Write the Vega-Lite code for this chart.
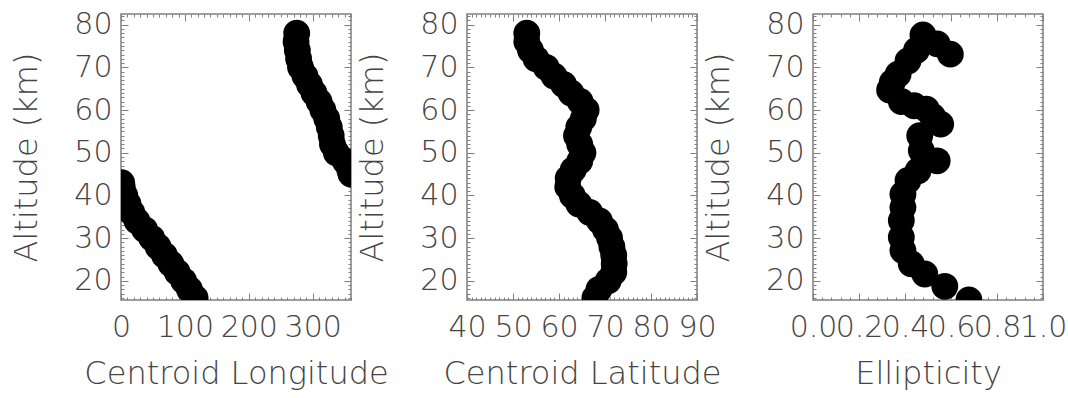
{
  "$schema": "https://vega.github.io/schema/vega-lite/v6.json",
  "autosize": {"type": "pad"},
  "padding": {"left": 9, "top": 0, "right": 3, "bottom": 0},
  "background": "white",
  "spacing": 116,
  "bounds": "flush",
  "datasets": {
    "lon": [
      {"alt": 78, "v": 275}, {"alt": 76, "v": 274}, {"alt": 74, "v": 276}, {"alt": 72, "v": 278},
      {"alt": 70, "v": 281}, {"alt": 68, "v": 288}, {"alt": 66, "v": 295}, {"alt": 64, "v": 302},
      {"alt": 62, "v": 310}, {"alt": 60, "v": 316}, {"alt": 58, "v": 322}, {"alt": 56, "v": 326},
      {"alt": 54, "v": 329}, {"alt": 52, "v": 331}, {"alt": 50, "v": 337}, {"alt": 48, "v": 351},
      {"alt": 46, "v": 358}, {"alt": 45, "v": 360},
      {"alt": 43, "v": 1}, {"alt": 42, "v": 2}, {"alt": 40, "v": 6}, {"alt": 38, "v": 11},
      {"alt": 36, "v": 17}, {"alt": 34, "v": 25}, {"alt": 32, "v": 37}, {"alt": 30, "v": 48},
      {"alt": 28, "v": 58}, {"alt": 26, "v": 68}, {"alt": 24, "v": 78}, {"alt": 22, "v": 88},
      {"alt": 20, "v": 98}, {"alt": 18, "v": 107}, {"alt": 16, "v": 116}
    ],
    "lat": [
      {"alt": 78, "v": 53.0}, {"alt": 76, "v": 53.0}, {"alt": 74, "v": 53.8}, {"alt": 72, "v": 55.0},
      {"alt": 70, "v": 57.2}, {"alt": 68, "v": 58.9}, {"alt": 66, "v": 61.0}, {"alt": 64, "v": 62.6},
      {"alt": 62, "v": 64.6}, {"alt": 60, "v": 65.9}, {"alt": 58, "v": 65.3}, {"alt": 56, "v": 64.3},
      {"alt": 54, "v": 63.8}, {"alt": 52, "v": 64.5}, {"alt": 50, "v": 65.2}, {"alt": 48, "v": 64.5},
      {"alt": 46, "v": 63.1}, {"alt": 44, "v": 62.0}, {"alt": 42, "v": 61.9}, {"alt": 40, "v": 62.9},
      {"alt": 38, "v": 64.3}, {"alt": 36, "v": 66.7}, {"alt": 34, "v": 68.8}, {"alt": 32, "v": 70.1},
      {"alt": 30, "v": 71.0}, {"alt": 28, "v": 71.5}, {"alt": 26, "v": 71.9}, {"alt": 24, "v": 72.0},
      {"alt": 22, "v": 71.9}, {"alt": 20, "v": 70.7}, {"alt": 18, "v": 68.7}, {"alt": 16, "v": 67.8}
    ],
    "ell": [
      {"alt": 77.6, "v": 0.478}, {"alt": 75.5, "v": 0.54}, {"alt": 73.1, "v": 0.597}, {"alt": 74.0, "v": 0.45},
      {"alt": 71.5, "v": 0.413}, {"alt": 68.4, "v": 0.37}, {"alt": 66.5, "v": 0.345}, {"alt": 64.7, "v": 0.333},
      {"alt": 62.0, "v": 0.384}, {"alt": 61.0, "v": 0.44}, {"alt": 60.2, "v": 0.493}, {"alt": 58.5, "v": 0.52},
      {"alt": 56.7, "v": 0.555}, {"alt": 54.0, "v": 0.464}, {"alt": 50.5, "v": 0.471}, {"alt": 48.1, "v": 0.54},
      {"alt": 45.8, "v": 0.457}, {"alt": 43.5, "v": 0.413}, {"alt": 40.3, "v": 0.391}, {"alt": 37.2, "v": 0.391},
      {"alt": 34.1, "v": 0.384}, {"alt": 30.2, "v": 0.384}, {"alt": 27.1, "v": 0.391}, {"alt": 24.0, "v": 0.427},
      {"alt": 21.6, "v": 0.486}, {"alt": 18.7, "v": 0.573}, {"alt": 15.5, "v": 0.678}
    ]
  },
  "hconcat": [
    {
      "width": 230, "height": 286,
      "data": {"name": "lon"},
      "resolve": {"axis": {"x": "independent", "y": "independent"}},
      "layer": [
        {
          "mark": {"type": "point", "filled": true, "clip": true, "color": "black", "size": 720, "opacity": 1},
          "encoding": {
            "x": {"field": "v", "type": "quantitative", "scale": {"domain": [0, 360], "nice": false, "zero": false},
              "axis": {"orient": "bottom", "title": "Centroid Longitude",
                "values": [0,10,20,30,40,50,60,70,80,90,100,110,120,130,140,150,160,170,180,190,200,210,220,230,240,250,260,270,280,290,300,310,320,330,340,350,360],
                "labelExpr": "datum.value % 100 === 0 ? datum.label : ''",
                "tickSize": {"condition": {"test": "datum.value % 100 === 0", "value": -7}, "value": -3}}},
            "y": {"field": "alt", "type": "quantitative", "scale": {"domain": [15.5, 82.5], "nice": false, "zero": false},
              "axis": {"orient": "left", "title": "Altitude (km)",
                "values": [16,17,18,19,20,21,22,23,24,25,26,27,28,29,30,31,32,33,34,35,36,37,38,39,40,41,42,43,44,45,46,47,48,49,50,51,52,53,54,55,56,57,58,59,60,61,62,63,64,65,66,67,68,69,70,71,72,73,74,75,76,77,78,79,80,81,82],
                "labelExpr": "datum.value % 10 === 0 ? datum.label : ''",
                "tickSize": {"condition": {"test": "datum.value % 10 === 0", "value": -7}, "value": -3}}}
          }
        },
        {
          "mark": {"type": "point", "opacity": 0},
          "encoding": {
            "x": {"field": "v", "type": "quantitative",
              "axis": {"orient": "top", "title": null, "labels": false,
                "values": [0,10,20,30,40,50,60,70,80,90,100,110,120,130,140,150,160,170,180,190,200,210,220,230,240,250,260,270,280,290,300,310,320,330,340,350,360],
                "tickSize": {"condition": {"test": "datum.value % 100 === 0", "value": -7}, "value": -3}}},
            "y": {"field": "alt", "type": "quantitative",
              "axis": {"orient": "right", "title": null, "labels": false,
                "values": [16,17,18,19,20,21,22,23,24,25,26,27,28,29,30,31,32,33,34,35,36,37,38,39,40,41,42,43,44,45,46,47,48,49,50,51,52,53,54,55,56,57,58,59,60,61,62,63,64,65,66,67,68,69,70,71,72,73,74,75,76,77,78,79,80,81,82],
                "tickSize": {"condition": {"test": "datum.value % 10 === 0", "value": -7}, "value": -3}}}
          }
        }
      ]
    },
    {
      "width": 230, "height": 286,
      "data": {"name": "lat"},
      "resolve": {"axis": {"x": "independent", "y": "independent"}},
      "layer": [
        {
          "mark": {"type": "point", "filled": true, "clip": true, "color": "black", "size": 720, "opacity": 1},
          "encoding": {
            "x": {"field": "v", "type": "quantitative", "scale": {"domain": [40, 90], "nice": false, "zero": false},
              "axis": {"orient": "bottom", "title": "Centroid Latitude",
                "values": [40,41,42,43,44,45,46,47,48,49,50,51,52,53,54,55,56,57,58,59,60,61,62,63,64,65,66,67,68,69,70,71,72,73,74,75,76,77,78,79,80,81,82,83,84,85,86,87,88,89,90],
                "labelExpr": "datum.value % 10 === 0 ? datum.label : ''",
                "tickSize": {"condition": {"test": "datum.value % 10 === 0", "value": -7}, "value": -3}}},
            "y": {"field": "alt", "type": "quantitative", "scale": {"domain": [15.5, 82.5], "nice": false, "zero": false},
              "axis": {"orient": "left", "title": "Altitude (km)",
                "values": [16,17,18,19,20,21,22,23,24,25,26,27,28,29,30,31,32,33,34,35,36,37,38,39,40,41,42,43,44,45,46,47,48,49,50,51,52,53,54,55,56,57,58,59,60,61,62,63,64,65,66,67,68,69,70,71,72,73,74,75,76,77,78,79,80,81,82],
                "labelExpr": "datum.value % 10 === 0 ? datum.label : ''",
                "tickSize": {"condition": {"test": "datum.value % 10 === 0", "value": -7}, "value": -3}}}
          }
        },
        {
          "mark": {"type": "point", "opacity": 0},
          "encoding": {
            "x": {"field": "v", "type": "quantitative",
              "axis": {"orient": "top", "title": null, "labels": false,
                "values": [40,41,42,43,44,45,46,47,48,49,50,51,52,53,54,55,56,57,58,59,60,61,62,63,64,65,66,67,68,69,70,71,72,73,74,75,76,77,78,79,80,81,82,83,84,85,86,87,88,89,90],
                "tickSize": {"condition": {"test": "datum.value % 10 === 0", "value": -7}, "value": -3}}},
            "y": {"field": "alt", "type": "quantitative",
              "axis": {"orient": "right", "title": null, "labels": false,
                "values": [16,17,18,19,20,21,22,23,24,25,26,27,28,29,30,31,32,33,34,35,36,37,38,39,40,41,42,43,44,45,46,47,48,49,50,51,52,53,54,55,56,57,58,59,60,61,62,63,64,65,66,67,68,69,70,71,72,73,74,75,76,77,78,79,80,81,82],
                "tickSize": {"condition": {"test": "datum.value % 10 === 0", "value": -7}, "value": -3}}}
          }
        }
      ]
    },
    {
      "width": 230, "height": 286,
      "data": {"name": "ell"},
      "resolve": {"axis": {"x": "independent", "y": "independent"}},
      "layer": [
        {
          "mark": {"type": "point", "filled": true, "clip": true, "color": "black", "size": 720, "opacity": 1},
          "encoding": {
            "x": {"field": "v", "type": "quantitative", "scale": {"domain": [0, 1], "nice": false, "zero": false},
              "axis": {"orient": "bottom", "title": "Ellipticity", "format": ".1f",
                "values": [0,0.04,0.08,0.12,0.16,0.2,0.24,0.28,0.32,0.36,0.4,0.44,0.48,0.52,0.56,0.6,0.64,0.68,0.72,0.76,0.8,0.84,0.88,0.92,0.96,1],
                "labelExpr": "abs(datum.value*5 - round(datum.value*5)) < 0.001 ? datum.label : ''",
                "tickSize": {"condition": {"test": "abs(datum.value*5 - round(datum.value*5)) < 0.001", "value": -7}, "value": -3}}},
            "y": {"field": "alt", "type": "quantitative", "scale": {"domain": [15.5, 82.5], "nice": false, "zero": false},
              "axis": {"orient": "left", "title": "Altitude (km)",
                "values": [16,17,18,19,20,21,22,23,24,25,26,27,28,29,30,31,32,33,34,35,36,37,38,39,40,41,42,43,44,45,46,47,48,49,50,51,52,53,54,55,56,57,58,59,60,61,62,63,64,65,66,67,68,69,70,71,72,73,74,75,76,77,78,79,80,81,82],
                "labelExpr": "datum.value % 10 === 0 ? datum.label : ''",
                "tickSize": {"condition": {"test": "datum.value % 10 === 0", "value": -7}, "value": -3}}}
          }
        },
        {
          "mark": {"type": "point", "opacity": 0},
          "encoding": {
            "x": {"field": "v", "type": "quantitative",
              "axis": {"orient": "top", "title": null, "labels": false,
                "values": [0,0.04,0.08,0.12,0.16,0.2,0.24,0.28,0.32,0.36,0.4,0.44,0.48,0.52,0.56,0.6,0.64,0.68,0.72,0.76,0.8,0.84,0.88,0.92,0.96,1],
                "tickSize": {"condition": {"test": "abs(datum.value*5 - round(datum.value*5)) < 0.001", "value": -7}, "value": -3}}},
            "y": {"field": "alt", "type": "quantitative",
              "axis": {"orient": "right", "title": null, "labels": false,
                "values": [16,17,18,19,20,21,22,23,24,25,26,27,28,29,30,31,32,33,34,35,36,37,38,39,40,41,42,43,44,45,46,47,48,49,50,51,52,53,54,55,56,57,58,59,60,61,62,63,64,65,66,67,68,69,70,71,72,73,74,75,76,77,78,79,80,81,82],
                "tickSize": {"condition": {"test": "datum.value % 10 === 0", "value": -7}, "value": -3}}}
          }
        }
      ]
    }
  ],
  "config": {
    "view": {"stroke": "#808080", "strokeWidth": 1.5},
    "axis": {
      "domain": false, "grid": false,
      "tickColor": "#808080", "tickWidth": 1,
      "labelFont": "DejaVu Sans", "titleFont": "DejaVu Sans",
      "labelFontSize": 30, "titleFontSize": 32,
      "labelFontWeight": 200, "titleFontWeight": 200,
      "labelColor": "#444444", "titleColor": "#444444",
      "labelOverlap": false, "labelBound": false, "labelFlush": false
    },
    "axisX": {"labelPadding": 19, "titlePadding": 12},
    "axisY": {"minExtent": 50, "maxExtent": 50, "labelPadding": 16, "titlePadding": 28}
  }
}
